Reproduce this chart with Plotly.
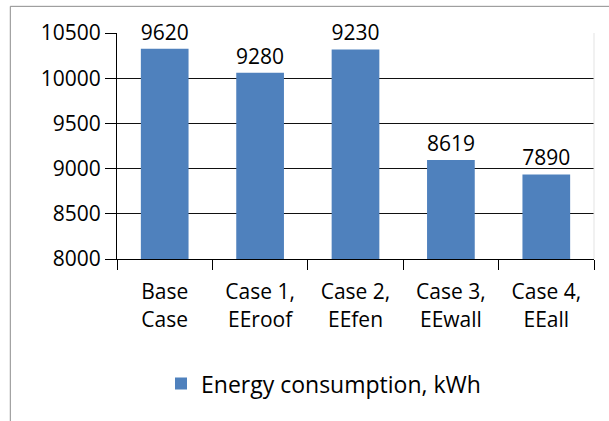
import plotly.graph_objects as go

categories = ["Base<br>Case", "Case 1,<br>EEroof", "Case 2,<br>EEfen", "Case 3,<br>EEwall", "Case 4,<br>EEall"]
bar_heights = [10325, 10060, 10318, 9095, 8936]
bar_labels = ["9620", "9280", "9230", "8619", "7890"]
y_ticks = [8000, 8500, 9000, 9500, 10000, 10500]
series_name = "Energy consumption, kWh"

FONT = "Open Sans"

fig = go.Figure()
fig.add_trace(go.Bar(
    x=categories,
    y=bar_heights,
    name=series_name,
    text=bar_labels,
    textposition="outside",
    textfont=dict(family=FONT, size=21, color="black"),
    constraintext="none",
    cliponaxis=False,
    marker=dict(color="#4F81BD", line=dict(width=0)),
    showlegend=True,
))

# pixel helpers for frame (plot area: x 117..594, y 33.3..258.7)
L, R, T, B = 117, 594, 33.3, 258.7
W, H = R - L, B - T
def px(x):
    return (x - L) / W
def py(y):
    return (B - y) / H

frame_color = "#8c8c8c"
fig.add_shape(type="line", xref="paper", yref="paper",
              x0=px(10.3), x1=px(609), y0=py(6.7), y1=py(6.7),
              line=dict(color=frame_color, width=1))
fig.add_shape(type="line", xref="paper", yref="paper",
              x0=px(10.3), x1=px(10.3), y0=py(6.7), y1=py(421),
              line=dict(color=frame_color, width=1))
fig.add_shape(type="line", xref="paper", yref="paper",
              x0=1, x1=1, y0=0, y1=1,
              line=dict(color="#e3e3e3", width=1))

fig.update_layout(
    width=609, height=421,
    margin=dict(l=L, r=609 - R, t=T, b=421 - B, pad=0, autoexpand=False),
    paper_bgcolor="white", plot_bgcolor="white",
    bargap=0.5,
    font=dict(family=FONT, size=21, color="black"),
    legend=dict(
        orientation="h",
        x=px(161), xanchor="left",
        y=py(383), yanchor="middle",
        font=dict(family=FONT, size=23, color="black"),
        bgcolor="rgba(0,0,0,0)",
    ),
    xaxis=dict(
        showline=True, linecolor="black", linewidth=1,
        ticks="outside", ticklen=10, tickcolor="black", tickwidth=1,
        tickson="boundaries",
        showgrid=False,
        ticklabelstandoff=14,
        tickfont=dict(family=FONT, size=21, color="black"),
    ),
    yaxis=dict(
        range=[8000, 10500],
        tickvals=y_ticks,
        ticktext=[str(v) for v in y_ticks],
        showline=True, linecolor="black", linewidth=1,
        ticks="outside", ticklen=11, tickcolor="black", tickwidth=1,
        showgrid=True, gridcolor="#111111", gridwidth=1.3,
        zeroline=False,
        tickfont=dict(family=FONT, size=21, color="black"),
    ),
)

fig.write_html("out.html", config={"displayModeBar": False},
               post_script="document.body.style.margin='0';document.body.style.padding='0';")
